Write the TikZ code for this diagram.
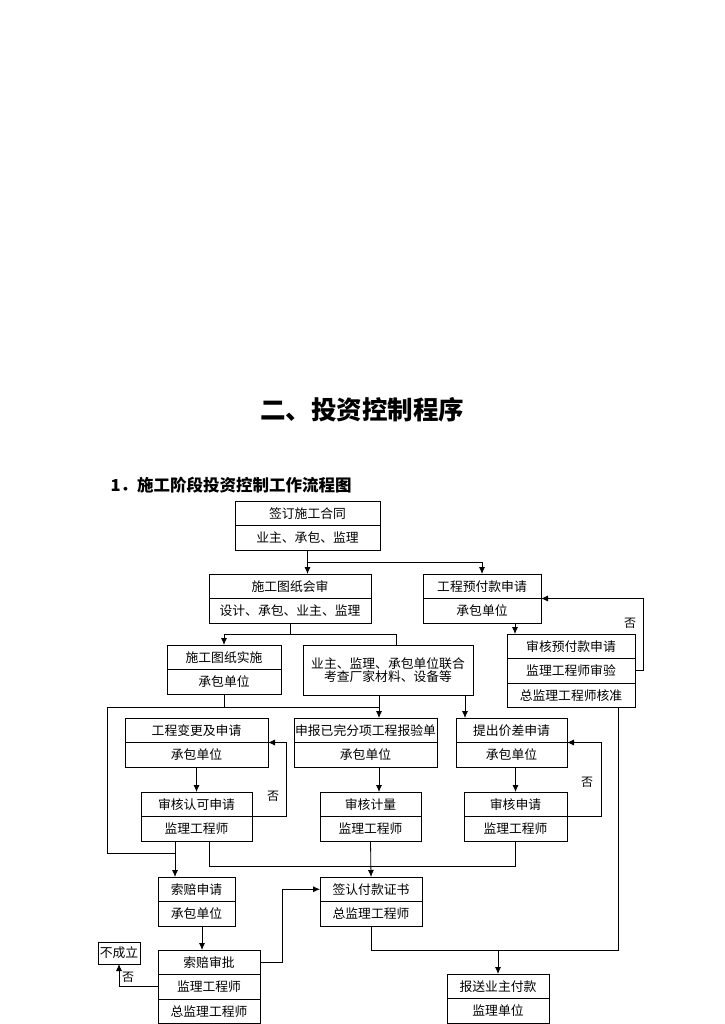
\documentclass[tikz,border=0pt]{standalone}
\usepackage{fontspec}
\newfontfamily\cjk{Noto Sans CJK SC}
\usepackage{tikz}
\usetikzlibrary{positioning, arrows.meta, calc}
\tikzset{
    base/.style={draw, line width=0.9pt, outer sep=0pt, inner sep=1pt, align=center, font=\cjk\fontsize{12.8}{15}\selectfont},
    row/.style={base, rectangle, minimum height=24.5},
    twoline/.style={base, rectangle, minimum height=50},
    title/.style={font=\cjk\bfseries\fontsize{25.5}{30}\selectfont},
    subtitle/.style={font=\cjk\bfseries\fontsize{16.5}{19}\selectfont, anchor=west},
    lbl/.style={font=\cjk\fontsize{12}{14}\selectfont, inner sep=0pt},
    arrow/.style={-{Latex[length=7pt,width=6pt]}, line width=0.8pt},
    line/.style={draw, line width=0.8pt}
}

\begin{document}
\begin{tikzpicture}[x=1pt, y=1pt]
    \useasboundingbox (0,0) rectangle (724,-1024);
    % Headings
    \node [title] (ttl) at (362,-410) {二、投资控制程序};
    \node [subtitle] (sub) at (107,-485) {1．施工阶段投资控制工作流程图};

    % Contract and drawings
    \node [row, minimum width=145] (sign1) at (307.5,-513.25) {签订施工合同};
    \node [row, minimum width=145, below=0pt of sign1] (sign2) {业主、承包、监理};
    \node [row, minimum width=162] (review1) at (290,-586.25) {施工图纸会审};
    \node [row, minimum width=162, below=0pt of review1] (review2) {设计、承包、业主、监理};
    \node [row, minimum width=118] (adv1) at (482,-586.25) {工程预付款申请};
    \node [row, minimum width=118, below=0pt of adv1] (adv2) {承包单位};
    \node [row, minimum width=128] (advchk1) at (571,-646.25) {审核预付款申请};
    \node [row, minimum width=128, below=0pt of advchk1] (advchk2) {监理工程师审验};
    \node [row, minimum width=128, below=0pt of advchk2] (advchk3) {总监理工程师核准};
    \node [row, minimum width=114] (impl1) at (224,-657.25) {施工图纸实施};
    \node [row, minimum width=114, below=0pt of impl1] (impl2) {承包单位};
    \node [twoline, minimum width=170] (joint) at (388,-670) {业主、监理、承包单位联合\\[-2pt]考查厂家材料、设备等};

    % Applications
    \node [row, minimum width=143] (chg1) at (196.5,-730.25) {工程变更及申请};
    \node [row, minimum width=143, below=0pt of chg1] (chg2) {承包单位};
    \node [row, minimum width=143] (meas1) at (365.5,-730.25) {申报已完分项工程报验单};
    \node [row, minimum width=143, below=0pt of meas1] (meas2) {承包单位};
    \node [row, minimum width=111] (diff1) at (511.5,-730.25) {提出价差申请};
    \node [row, minimum width=111, below=0pt of diff1] (diff2) {承包单位};

    % Checks
    \node [row, minimum width=111] (chgchk1) at (196.5,-804.25) {审核认可申请};
    \node [row, minimum width=111, below=0pt of chgchk1] (chgchk2) {监理工程师};
    \node [row, minimum width=101] (measchk1) at (370.5,-804.25) {审核计量};
    \node [row, minimum width=101, below=0pt of measchk1] (measchk2) {监理工程师};
    \node [row, minimum width=103] (diffchk1) at (515.5,-804.25) {审核申请};
    \node [row, minimum width=103, below=0pt of diffchk1] (diffchk2) {监理工程师};

    % Claims and payment
    \node [row, minimum width=77] (claim1) at (196.5,-889.25) {索赔申请};
    \node [row, minimum width=77, below=0pt of claim1] (claim2) {承包单位};
    \node [row, minimum width=102] (cert1) at (371,-889.25) {签认付款证书};
    \node [row, minimum width=102, below=0pt of cert1] (cert2) {总监理工程师};
    \node [base, minimum width=42, minimum height=22] (void) at (119,-953) {不成立};
    \node [row, minimum width=102] (claimchk1) at (209,-962.25) {索赔审批};
    \node [row, minimum width=102, below=0pt of claimchk1] (claimchk2) {监理工程师};
    \node [row, minimum width=102, below=0pt of claimchk2] (claimchk3) {总监理工程师};
    \node [row, minimum width=102] (pay1) at (498,-986.25) {报送业主付款};
    \node [row, minimum width=102, below=0pt of pay1] (pay2) {监理单位};

    % "No" labels
    \node [lbl] (no1) at ([shift={(-5,11)}]advchk1.north east) {否};
    \node [lbl] (no2) at (273,-796) {否};
    \node [lbl] (no3) at (587,-782) {否};
    \node [lbl] (no4) at (128,-977) {否};

    % Junctions
    \coordinate (c1) at (379,-707);
    \coordinate (lft) at (107,-707);
    \coordinate (c2) at (175,-853);
    \coordinate (c4) at (371,-866);

    % Connections
    \draw [line] (sign2.south) -- ++(0,-12) coordinate (c0);
    \draw [arrow] (c0) -- (c0 |- review1.north);
    \draw [arrow] (c0) -| (adv1.north);
    \draw [line] (review2.south) -- ++(0,-11) coordinate (c5);
    \draw [arrow] (c5) -| (impl1.north);
    \draw [line] (c5) -| ([xshift=8]joint.north);
    \draw [arrow] ([xshift=33]adv2.south) -- ([xshift=33]adv2.south |- advchk1.north);
    \draw [arrow] (advchk2.east) -- ++(8,0) |- (adv1.south east);

    \draw [line] (impl2.south) -- (impl2.south |- c1);
    \draw [arrow] (joint.south -| c1) -- (meas1.north -| c1);
    \draw [arrow] ([xshift=77]joint.south) -- ([xshift=77]joint.south |- diff1.north);
    \draw [line] (c1) -- (lft) |- (c2);

    \draw [arrow] (chg2.south) -- (chgchk1.north);
    \draw [arrow] (chgchk1.south east) -- ++(34,0) |- (chg1.south east);
    \draw [arrow] (meas2.south -| c1) -- (measchk1.north -| c1);
    \draw [arrow] (diffchk1.north |- diff2.south) -- (diffchk1.north);
    \draw [arrow] (diffchk1.south east) -- ++(34,0) |- (diff1.south east);

    \draw [arrow] (chgchk2.south -| c2) -- (claim1.north -| c2);
    \draw [line] ([xshift=12.5]chgchk2.south) |- (c4) -| (diffchk2.south);
    \draw [arrow] (measchk2.south) -- (cert1.north);

    \draw [arrow] ([xshift=5.5]claim2.south) -- ([xshift=5.5]claim2.south |- claimchk1.north);
    \draw [arrow] (claimchk2.west) -| (void.south);
    \draw [arrow] (claimchk1.east) -- ++(22,0) |- (cert1.west);

    \draw [line] (cert2.south) -- ++(0,-24.5) coordinate (c9) -| ([xshift=47]advchk3.south);
    \draw [arrow] (c9 -| pay1.north) -- (pay1.north);
\end{tikzpicture}
\end{document}
